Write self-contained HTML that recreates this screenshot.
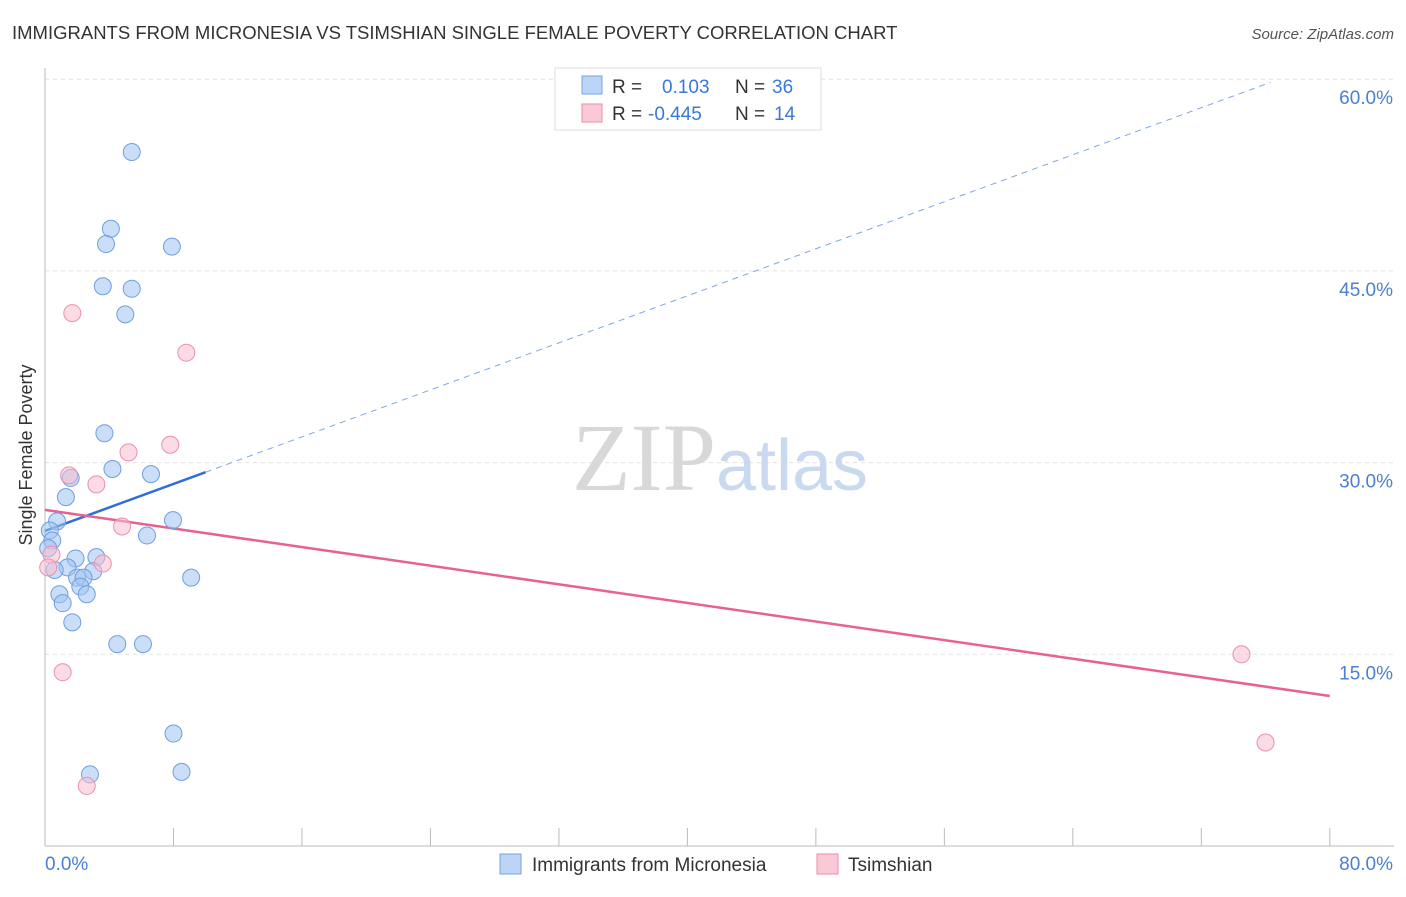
<!DOCTYPE html>
<html><head><meta charset="utf-8"><style>
body{margin:0;background:#fff;font-family:"Liberation Sans",sans-serif;}
svg text{font-family:"Liberation Sans",sans-serif;}
</style></head><body>
<svg id="chart" width="1406" height="892">
<text x="12" y="39" font-size="18.5" fill="#333">IMMIGRANTS FROM MICRONESIA VS TSIMSHIAN SINGLE FEMALE POVERTY CORRELATION CHART</text>
<text x="1394" y="39" font-size="15" fill="#555" font-style="italic" text-anchor="end">Source: ZipAtlas.com</text>
<text x="32" y="455" font-size="18" fill="#333" text-anchor="middle" transform="rotate(-90 32 455)">Single Female Poverty</text>
<g id="grid"></g>
<text x="720" y="490" font-size="96" fill="#ddd" text-anchor="middle" font-family="Liberation Serif"><tspan fill="#d8d8d8" font-family="Liberation Serif">ZIP</tspan><tspan fill="#c9d9f0" font-size="72" font-family="Liberation Sans">atlas</tspan></text>
<g id="lines"></g>
<g id="points"></g>
<g>
<rect x="555" y="68" width="266" height="62" fill="#fff" stroke="#ddd"/>
<rect x="582" y="76" width="20" height="18" fill="#bcd4f6" stroke="#7aa3e0"/>
<rect x="582" y="104" width="20" height="18" fill="#f9c9d6" stroke="#ee8aa8"/>
<text x="612" y="93" font-size="19" fill="#333">R = <tspan x="662" fill="#3a78d8">0.103</tspan><tspan x="735" fill="#333">N = </tspan><tspan x="772" fill="#3a78d8">36</tspan></text>
<text x="612" y="120" font-size="19" fill="#333">R = <tspan x="648" fill="#3a78d8">-0.445</tspan><tspan x="735" fill="#333">N = </tspan><tspan x="774" fill="#3a78d8">14</tspan></text>
</g>
<g>
<rect x="500" y="854" width="21" height="20" fill="#bcd4f6" stroke="#7aa3e0"/>
<text x="532" y="871" font-size="19" fill="#333">Immigrants from Micronesia</text>
<rect x="817" y="854" width="21" height="20" fill="#f9c9d6" stroke="#ee8aa8"/>
<text x="848" y="871" font-size="19" fill="#333">Tsimshian</text>
</g>
</svg>
<script>
const yTicks=[15,30,45,60];
const yTickLabels=["15.0%","30.0%","45.0%","60.0%"];
const xEndLabels=["0.0%","80.0%"];
const blueX=[5.4,4.1,3.8,7.9,3.6,5.4,5.0,3.7,4.2,6.6,1.6,1.3,0.75,7.97,6.35,0.3,0.45,3.2,1.9,1.4,3.0,0.6,2.0,2.4,2.2,0.9,2.6,1.1,9.1,1.7,4.5,6.1,8.0,2.8,8.5,0.2];
const blueY=[54.3,48.3,47.1,46.9,43.8,43.6,41.6,32.3,29.5,29.1,28.8,27.3,25.4,25.5,24.3,24.7,23.9,22.6,22.5,21.8,21.5,21.6,21.0,21.0,20.3,19.7,19.7,19.0,21.0,17.5,15.8,15.8,8.8,5.6,5.8,23.3];
const pinkX=[1.7,8.8,7.8,5.2,1.5,3.2,4.8,3.6,0.4,1.1,2.6,74.5,76.0,0.2];
const pinkY=[41.7,38.6,31.4,30.8,29.0,28.3,25.0,22.1,22.8,13.6,4.7,15.0,8.1,21.8];
const blueLine=[24.65,0.46];
const pinkLine=[26.3,-0.182];
const blueSolidEnd=10, blueDashEnd=76.3;
const NS="http://www.w3.org/2000/svg";
const sx=v=>45+v*16.06, sy=v=>846-v*12.78;
function mk(t,a,p){const e=document.createElementNS(NS,t);for(const k in a)e.setAttribute(k,a[k]);document.getElementById(p).appendChild(e);return e;}
yTicks.forEach((t,i)=>{
 const g=mk('line',{x1:45,x2:1394,y1:sy(t),y2:sy(t),stroke:'#e2e2e2','stroke-dasharray':'4,4'},'grid');
 
 
 const tx=mk('text',{x:1393,y:sy(t)+25,'font-size':19,fill:'#4a7fd4','text-anchor':'end'},'grid');
 tx.textContent=yTickLabels[i];
 
 
});
const ax=mk('line',{x1:45,x2:45,y1:68,y2:846,stroke:'#bbb'},'grid');


const bx=mk('line',{x1:45,x2:1394,y1:846,y2:846,stroke:'#bbb'},'grid');


for(let i=0;i<=10;i++){const t=mk('line',{x1:sx(i*8),x2:sx(i*8),y1:828,y2:846,stroke:'#bbb'},'grid');
 
 }
const l0=mk('text',{x:45,y:870,'font-size':19,fill:'#4a7fd4'},'grid');l0.textContent=xEndLabels[0];


const l1=mk('text',{x:1393,y:870,'font-size':19,fill:'#4a7fd4','text-anchor':'end'},'grid');l1.textContent=xEndLabels[1];


const f=(L,x)=>L[0]+L[1]*x;
const d=mk('line',{x1:sx(blueSolidEnd),y1:sy(f(blueLine,blueSolidEnd)),x2:sx(blueDashEnd),y2:sy(f(blueLine,blueDashEnd)),stroke:'#7fa6e3','stroke-width':1,'stroke-dasharray':'6,5'},'lines');


const b=mk('line',{x1:sx(0),y1:sy(f(blueLine,0)),x2:sx(blueSolidEnd),y2:sy(f(blueLine,blueSolidEnd)),stroke:'#2f6fd6','stroke-width':2.5},'lines');


const p=mk('line',{x1:sx(0),y1:sy(f(pinkLine,0)),x2:sx(80),y2:sy(f(pinkLine,80)),stroke:'#e8628f','stroke-width':2.5},'lines');


blueX.forEach((x,i)=>{const c=mk('circle',{cx:sx(x),cy:sy(blueY[i]),r:8.5,fill:'rgba(160,195,240,0.55)',stroke:'#6f9ee0','stroke-width':1},'points');
 
 });
pinkX.forEach((x,i)=>{const c=mk('circle',{cx:sx(x),cy:sy(pinkY[i]),r:8.5,fill:'rgba(248,190,206,0.55)',stroke:'#ec8fad','stroke-width':1},'points');
 
 });
</script>
</body></html>
